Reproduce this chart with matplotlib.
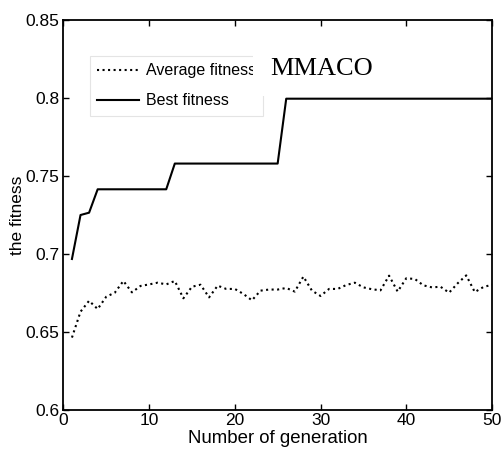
import matplotlib
matplotlib.use("Agg")
import matplotlib.pyplot as plt
import numpy as np

generations = list(range(1, 51))
average_fitness = [0.6464, 0.6630, 0.6700, 0.6647, 0.6726, 0.6752, 0.6827, 0.6754, 0.6795, 0.6805,
                   0.6816, 0.6805, 0.6827, 0.6716, 0.6790, 0.6803, 0.6722, 0.6797, 0.6776, 0.6776,
                   0.6744, 0.6703, 0.6765, 0.6772, 0.6772, 0.6782, 0.6759, 0.6855, 0.6765, 0.6731,
                   0.6776, 0.6776, 0.6801, 0.6816, 0.6786, 0.6774, 0.6767, 0.6861, 0.6759, 0.6844,
                   0.6840, 0.6799, 0.6786, 0.6790, 0.6752, 0.6812, 0.6863, 0.6756, 0.6788, 0.6803]
best_fitness = ([0.6968, 0.7250, 0.7265] + [0.7415] * 9 + [0.7580] * 13 + [0.7996] * 25)

xticks = [0, 10, 20, 30, 40, 50]
yticks = [0.6, 0.65, 0.7, 0.75, 0.8, 0.85]
ytick_labels = ["0.6", "0.65", "0.7", "0.75", "0.8", "0.85"]

plt.rcParams['font.family'] = ['Liberation Sans', 'DejaVu Sans']

fig = plt.figure(figsize=(5.03, 4.57), dpi=100)
ax = fig.add_axes([0.126, 0.103, 0.852, 0.853])

ax.plot(generations, average_fitness, linestyle=':', color='black', lw=1.5, label='Average fitness')
ax.plot(generations, best_fitness, linestyle='-', color='black', lw=1.5, label='Best fitness')

ax.set_xlim(0, 50)
ax.set_ylim(0.6, 0.85)
ax.set_xticks(xticks)
ax.set_yticks(yticks)
ax.set_yticklabels(ytick_labels)
ax.tick_params(direction='in', top=True, right=True, labelsize=12.5, length=4, width=1)
ax.tick_params(axis='x', pad=2.5)
ax.tick_params(axis='y', pad=3)
for s in ax.spines.values():
    s.set_linewidth(1.3)

ax.set_xlabel('Number of generation', fontsize=13.4, labelpad=1)
ax.set_ylabel('the fitness', fontsize=12.5, labelpad=0)

leg = ax.legend(loc='upper left', bbox_to_anchor=(0.062, 0.908), fontsize=11.5,
                frameon=True, fancybox=False, edgecolor='#e4e4e4', framealpha=1,
                handlelength=2.6, borderpad=0.45, labelspacing=0.95, handletextpad=0.45,
                borderaxespad=0)
leg.get_frame().set_linewidth(0.8)
leg.set_zorder(3)

ax.text(0.602, 0.875, 'MMACO', transform=ax.transAxes, ha='center', va='center',
        fontsize=19, family='Liberation Serif', zorder=5,
        bbox=dict(facecolor='white', edgecolor='none', pad=12))

fig.savefig('out.png', dpi=100)
